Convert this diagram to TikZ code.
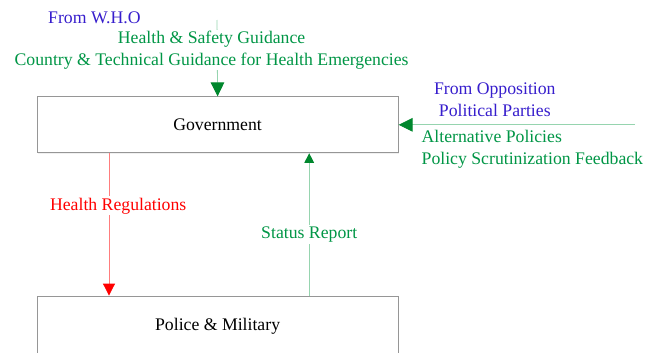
\documentclass[tikz,border=0pt]{standalone}
\usepackage{fontspec}
\setmainfont{Liberation Serif}
\usepackage{tikz}
\usetikzlibrary{positioning, arrows.meta, shadows, calc}
\definecolor{whoblue}{RGB}{55,30,205}
\definecolor{textgreen}{RGB}{0,150,70}
\definecolor{linegreen}{RGB}{150,212,175}
\definecolor{headgreen}{RGB}{0,135,45}
\definecolor{linered}{RGB}{255,125,125}
\definecolor{boxgray}{RGB}{150,150,150}
\tikzset{
	block/.style={draw=boxgray, line width=0.6pt, rectangle, fill=white, minimum width=9.03cm, minimum height=1.4cm, text centered, drop shadow={opacity=0.12, shadow xshift=0.5pt, shadow yshift=-0.8pt}},
	lbl/.style={inner sep=1pt, fill=white, align=center},
	flowg/.style={linegreen, line width=0.6pt, -{Triangle[length=0.35cm, width=0.34cm, color=headgreen]}},
}
\begin{document}
\begin{tikzpicture}[font=\fontsize{12.6}{15.4}\selectfont]
		\clip (0,0) rectangle (16.45,-8.8);
		\useasboundingbox (0,0) rectangle (16.45,-8.8);
		
		%Blocks
		\node(Government) at (5.44,-3.12) [block]{Government};
		\node(Police) at (5.44,-8.15) [block, minimum height=1.5cm]{Police \& Military};
		
		%Input from W.H.O
		\coordinate (WHOsrc) at (5.425,-0.5);
		\draw[flowg] (WHOsrc) -- (Government.north);
		\node(FromWHO) at (2.36,-0.45) [lbl, text=whoblue]{From W.H.O};
		\node(WHOguide) at (5.29,-1.25) [lbl, text=textgreen]{Health \& Safety Guidance\\Country \& Technical Guidance for Health Emergencies};
		
		%Input from the opposition
		\coordinate (OPPsrc) at (15.875,-3.12);
		\draw[flowg] (OPPsrc) -- (Government.east);
		\node(FromOpp) at (12.37,-2.5) [lbl, text=whoblue]{From Opposition\\Political Parties};
		\node(OppFeedback) at (10.5,-3.73) [lbl, anchor=west, align=left, text=textgreen]{Alternative Policies\\Policy Scrutinization Feedback};
		
		%Links between the blocks
		\draw[linered, line width=0.6pt, -{Triangle[length=0.3cm, width=0.3cm, color=red]}] ([xshift=-2.715cm]Government.south) -- node[lbl, pos=0.37, xshift=0.23cm, text=red]{Health Regulations} ([xshift=-2.715cm]Police.north);
		\draw[linegreen, line width=0.6pt, -{Triangle[length=0.24cm, width=0.24cm, color=headgreen]}] ([xshift=2.29cm]Police.north) -- node[lbl, pos=0.43, text=textgreen]{Status Report} ([xshift=2.29cm]Government.south);
		
\end{tikzpicture}
\end{document}
